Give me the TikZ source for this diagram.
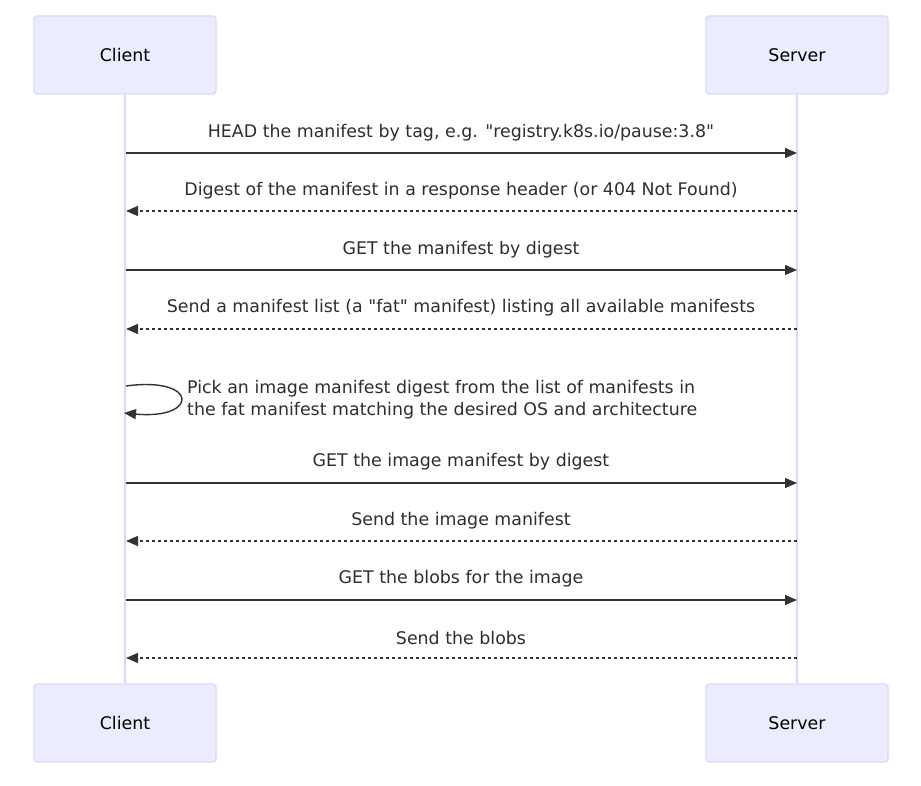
\documentclass[tikz,border=0pt]{standalone}
\usepackage{fontspec}
\setmainfont{DejaVu Sans}
\definecolor{actorfill}{RGB}{236,236,255}
\definecolor{actorline}{RGB}{222,214,246}
\definecolor{msgline}{RGB}{51,51,51}
\usetikzlibrary{arrows.meta}

\begin{document}
\begin{tikzpicture}[x=1pt,y=-1pt,font=\fontsize{17.4pt}{22pt}\selectfont]

%
% Styles
%
\tikzstyle{actor}    = [draw=actorline,fill=actorfill,line width=1.2pt,rounded corners=3pt, minimum width=182pt, minimum height=78pt, inner sep=0pt, text=black]
\tikzstyle{lifeline} = [draw=actorline,line width=2pt]
\tikzstyle{msg}      = [draw=msgline,line width=1.4pt,-{Triangle[length=12pt,width=10pt]}]
\tikzstyle{reply}    = [msg,dash pattern=on 3pt off 3pt]
\tikzstyle{label}    = [text=msgline!90!black,inner sep=0pt]

\useasboundingbox (0,0) rectangle (921,786);

\node[actor]  (c1) at (125, 55)  {Client};
\node[actor]  (s1) at (797, 55)  {Server};
\node[actor]  (c2) at (125,723)  {Client};
\node[actor]  (s2) at (797,723)  {Server};

\draw[lifeline] (c1.south) -- (c2.north);
\draw[lifeline] (s1.south) -- (s2.north);

% messages
\coordinate (ca) at (126,153);  \coordinate (sa) at (797,153);
\coordinate (cb) at (126,211);  \coordinate (sb) at (797,211);
\coordinate (cc) at (126,270);  \coordinate (sc) at (797,270);
\coordinate (cd) at (126,329);  \coordinate (sd) at (797,329);
\coordinate (cf) at (126,483);  \coordinate (sf) at (797,483);
\coordinate (cg) at (126,541);  \coordinate (sg) at (797,541);
\coordinate (ch) at (126,600);  \coordinate (sh) at (797,600);
\coordinate (ci) at (126,658);  \coordinate (si) at (797,658);
\coordinate (le) at (126,386);  \coordinate (re) at (124,413);

\node[label] (ma) at (461,133) {HEAD the manifest by tag, e.g. \textquotedbl registry.k8s.io/pause:3.8\textquotedbl};
\node[label] (mb) at (461,191) {Digest of the manifest in a response header (or 404 Not Found)};
\node[label] (mc) at (461,250) {GET the manifest by digest};
\node[label] (md) at (461,308) {Send a manifest list (a \textquotedbl fat\textquotedbl{} manifest) listing all available manifests};
\node[label,anchor=west,align=left] (me) at (187,400)
  {Pick an image manifest digest from the list of manifests in\\the fat manifest matching the desired OS and architecture};
\node[label] (mf) at (461,462) {GET the image manifest by digest};
\node[label] (mg) at (461,521) {Send the image manifest};
\node[label] (mh) at (461,579) {GET the blobs for the image};
\node[label] (mi) at (461,638) {Send the blobs};

\draw[msg]   (ca) -- (sa);
\draw[reply] (sb) -- (cb);
\draw[msg]   (cc) -- (sc);
\draw[reply] (sd) -- (cd);
\draw[msg]   (le) .. controls (199,376) and (199,420) .. (re);
\draw[msg]   (cf) -- (sf);
\draw[reply] (sg) -- (cg);
\draw[msg]   (ch) -- (sh);
\draw[reply] (si) -- (ci);

\end{tikzpicture}
\end{document}
